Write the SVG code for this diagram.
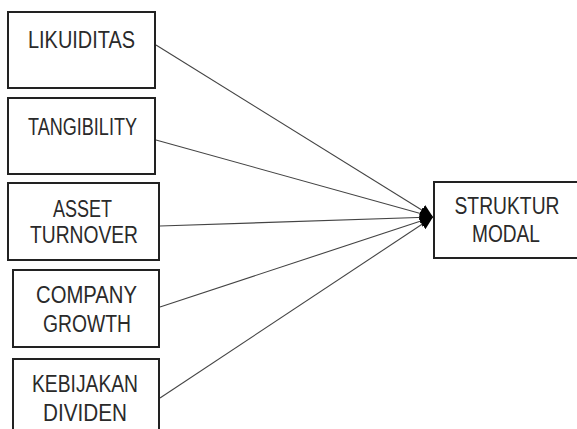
<svg xmlns="http://www.w3.org/2000/svg" width="577" height="429" viewBox="0 0 577 429">
<style>
.box{fill:#fff;stroke:#222;stroke-width:2}
.lbl{font-family:"Liberation Sans",Arial,sans-serif;font-size:23.5px;fill:#2a2a2a;text-anchor:middle}
.conn{stroke:#444;stroke-width:1.1;fill:none;marker-end:url(#ah)}
</style>
<defs>
<marker id="ah" markerUnits="userSpaceOnUse" viewBox="0 0 13 12" refX="13" refY="6" markerWidth="13" markerHeight="12" orient="auto">
<path d="M0,0 L13,6 L0,12 z" fill="#000"/>
</marker>
</defs>
<rect width="577" height="429" fill="#fff"/>
<g id="connectors">
<line class="conn" x1="156" y1="45" x2="433" y2="217"/>
<line class="conn" x1="156" y1="140" x2="433" y2="217"/>
<line class="conn" x1="160" y1="226" x2="433" y2="217"/>
<line class="conn" x1="160" y1="307" x2="433" y2="217"/>
<line class="conn" x1="160" y1="398" x2="433" y2="217"/>
</g>
<g id="likuiditas">
<rect class="box" x="8" y="12" width="147" height="76"/>
<text class="lbl" x="81.5" y="48" textLength="107" lengthAdjust="spacingAndGlyphs">LIKUIDITAS</text>
</g>
<g id="tangibility">
<rect class="box" x="8" y="98" width="147" height="76"/>
<text class="lbl" x="82.5" y="135" textLength="109" lengthAdjust="spacingAndGlyphs">TANGIBILITY</text>
</g>
<g id="asset-turnover">
<rect class="box" x="8" y="183" width="151" height="77"/>
<text class="lbl" x="82.5" y="217" textLength="59" lengthAdjust="spacingAndGlyphs">ASSET</text>
<text class="lbl" x="84" y="243" textLength="108" lengthAdjust="spacingAndGlyphs">TURNOVER</text>
</g>
<g id="company-growth">
<rect class="box" x="13" y="270" width="146" height="77"/>
<text class="lbl" x="86.5" y="303" textLength="101" lengthAdjust="spacingAndGlyphs">COMPANY</text>
<text class="lbl" x="87" y="332" textLength="88" lengthAdjust="spacingAndGlyphs">GROWTH</text>
</g>
<g id="kebijakan-dividen">
<rect class="box" x="13" y="359" width="146" height="90"/>
<text class="lbl" x="85" y="392" textLength="106" lengthAdjust="spacingAndGlyphs">KEBIJAKAN</text>
<text class="lbl" x="85" y="421" textLength="84" lengthAdjust="spacingAndGlyphs">DIVIDEN</text>
</g>
<g id="struktur-modal">
<rect class="box" x="434" y="182" width="160" height="76"/>
<text class="lbl" x="507" y="214" textLength="105" lengthAdjust="spacingAndGlyphs">STRUKTUR</text>
<text class="lbl" x="506" y="242" textLength="68" lengthAdjust="spacingAndGlyphs">MODAL</text>
</g>
</svg>
